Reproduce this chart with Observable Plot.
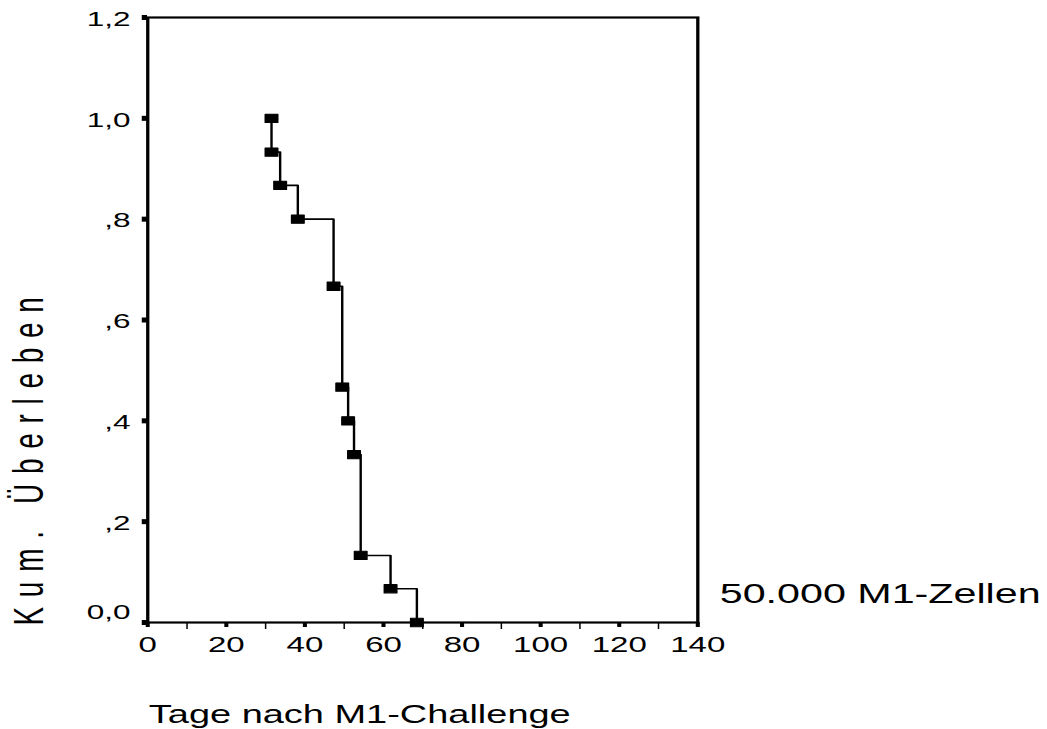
<!DOCTYPE html>
<html>
<head>
<meta charset="utf-8">
<script src="https://cdn.jsdelivr.net/npm/d3@7"></script>
<script src="https://cdn.jsdelivr.net/npm/@observablehq/plot@0.6"></script>
<style>
  html, body { margin: 0; padding: 0; background: #fff; overflow: hidden; }
  #chart svg { display: block; transform: scaleX(1.5); transform-origin: 0 0; max-width: none; }
</style>
</head>
<body>
<div id="chart"></div>
<script>
// Kaplan–Meier estimate
const days     = [31.5, 31.5, 33.7, 38.2, 47.3, 49.5, 51.0, 52.5, 54.2, 61.8, 68.5];
const survival = [1.0, 0.933, 0.867, 0.8, 0.667, 0.467, 0.4, 0.333, 0.133, 0.067, 0.0];

const xMajorTicks = [0, 20, 40, 60, 80, 100, 120, 140];
const xMinorTicks = [10, 30, 50, 70, 90, 110, 130];
const yTicks      = [0, 0.2, 0.4, 0.6, 0.8, 1.0, 1.2];
const yTickLabels = ["0,0", ",2", ",4", ",6", ",8", "1,0", "1,2"];

const xTitle = "Tage nach M1-Challenge";
const yTitle = "Kum. Überleben";
const seriesLabel = "50.000 M1-Zellen";

const rows = days.map((d, i) => ({day: d, surv: survival[i]}));
const yLabelFormat = d => yTickLabels[yTicks.indexOf(d)];

const font = "'Liberation Sans', Arial, Helvetica, sans-serif";

const chart = Plot.plot({
  width: 698,
  height: 729,
  marginLeft: 98,
  marginRight: 233.3,
  marginTop: 17,
  marginBottom: 107,
  style: {fontFamily: font, color: "black", background: "white"},
  x: {domain: [0, 140], label: null},
  y: {domain: [0, 1.2], label: null},
  marks: [
    Plot.frame({stroke: "black", strokeWidth: 2.2}),
    Plot.axisX(xMinorTicks, {tickSize: 7, strokeWidth: 1, text: null, label: null}),
    Plot.axisX(xMajorTicks, {tickSize: 5, strokeWidth: 2.7, tickPadding: 9, fontSize: 22, label: null, tickFormat: d => String(d)}),
    // y tick marks
    Plot.axisY(yTicks, {tickSize: 3.5, strokeWidth: 5, text: null, label: null}),
    // y tick labels (the zero label sits a little higher, as in the original)
    Plot.axisY(yTicks.slice(1), {tickSize: 0, tickPadding: 11.5, fontSize: 21, label: null, tickFormat: yLabelFormat, dy: 1.5}),
    Plot.axisY(yTicks.slice(0, 1), {tickSize: 0, tickPadding: 11.5, fontSize: 21, label: null, tickFormat: yLabelFormat, dy: -10}),
    Plot.line(rows, {x: "day", y: "surv", curve: "step-after", stroke: "black", strokeWidth: 1.6}),
    Plot.dot(rows, {x: "day", y: "surv", symbol: "square", r: 4.7, fill: "black", stroke: "black", strokeWidth: 1, strokeLinejoin: "round"}),
    Plot.text([xTitle], {frameAnchor: "bottom-left", textAnchor: "start", lineAnchor: "bottom", dx: 0.7, dy: 100, fontSize: 25.3, fill: "black"}),
    Plot.text([seriesLabel], {frameAnchor: "bottom-right", textAnchor: "start", lineAnchor: "bottom", dx: 14.6, dy: -20, fontSize: 27.5, fill: "black"}),
    Plot.text([yTitle], {frameAnchor: "bottom-left", rotate: -90, textAnchor: "start", lineAnchor: "bottom", dx: -70, dy: 3, fontSize: 28, fill: "black"})
  ]
});

chart.querySelectorAll("text").forEach(t => {
  if (t.textContent === yTitle) {
    t.style.letterSpacing = "9.7px";
  }
});

document.getElementById("chart").appendChild(chart);
</script>
</body>
</html>
